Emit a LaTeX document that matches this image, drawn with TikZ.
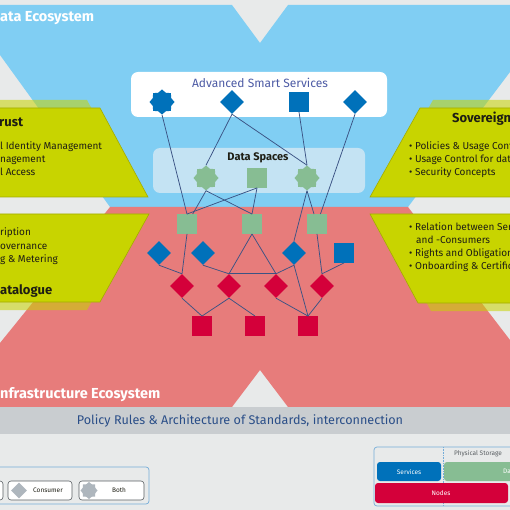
\documentclass[tikz,border=0pt]{standalone}
\usepackage{fontspec}
\setmainfont{Fira Sans}
\usetikzlibrary{shapes.geometric,positioning}
\definecolor{paper}{HTML}{E8EAEA}
\definecolor{skyb}{HTML}{80CEF3}
\definecolor{rose}{HTML}{E77C7B}
\definecolor{barc}{HTML}{C9CDD0}
\definecolor{ylw}{HTML}{C8D400}
\definecolor{ylwline}{HTML}{A3AC00}
\definecolor{svcblue}{HTML}{0071BA}
\definecolor{datgreen}{HTML}{87BD93}
\definecolor{nodered}{HTML}{D4003A}
\definecolor{linkc}{HTML}{3B5384}
\definecolor{dsbox}{HTML}{C4E3F3}
\definecolor{advc}{HTML}{4D5BA5}
\definecolor{policyc}{HTML}{2A4E88}
\definecolor{txtdark}{HTML}{1E1E14}
\definecolor{legline}{HTML}{74ACD8}
\definecolor{btnline}{HTML}{5A5F63}
\definecolor{legshape}{HTML}{AEB6BD}
\tikzset{
  link/.style={draw=linkc,line width=.75pt},
  sqn/.style={rectangle,minimum size=19.5pt,inner sep=0},
  dian/.style={diamond,minimum size=24pt,inner sep=0},
  starn/.style={star,star points=8,star point ratio=1.25,minimum size=25pt,inner sep=0},
  svc/.style={fill=svcblue},
  dat/.style={fill=datgreen},
  nod/.style={fill=nodered},
  pane/.style={fill=ylw,draw=ylwline,line width=.6pt},
  shade/.style={fill=ylw,opacity=.55},
  eco/.style={anchor=base west,inner sep=0,text=white,font=\fontsize{14.5}{16}\selectfont\bfseries},
  head/.style={anchor=base west,inner sep=0,text=txtdark,font=\fontsize{13}{15}\selectfont\bfseries},
  item/.style={anchor=base west,inner sep=0,text=txtdark,font=\fontsize{10}{12}\selectfont},
  tiny/.style={inner sep=0,font=\fontsize{6.5}{8}\selectfont},
  btn/.style={draw=btnline,fill=white,rounded corners=3pt,line width=.6pt}}

\begin{document}
\begin{tikzpicture}[x=1pt,y=-1pt]
\useasboundingbox (0,0) rectangle (510,510);
\fill[paper] (0,0) rectangle (510,510);
% ecosystems
\fill[skyb] (0,5)--(232,5)--(260,43)--(288,5)--(510,5)--(510,72)--(408,207)--(110,207)--(0,55)--cycle;
\fill[rose] (110,207)--(408,207)--(510,340)--(510,407)--(288,407)--(260,370)--(232,407)--(0,407)--(0,343)--cycle;
\node[eco] (datatitle) at (0,22) {ata Ecosystem};
\node[eco] (infratitle) at (0,398) {nfrastructure Ecosystem};
\fill[barc] (0,407) rectangle (510,434);
\node[text=policyc,font=\fontsize{12.6}{14}\selectfont] (policy) at (240,421) {Policy Rules \& Architecture of Standards, interconnection};

% side panels
\foreach \st/\sx/\sy in {shade/-13/-8,pane/0/0}{
\path[\st,shift={(\sx,\sy)}] (-20,108)--(100,108)--(148,197)--(-20,197)--cycle;
\path[\st,shift={(\sx,-\sy)}] (-20,214)--(149,214)--(100,302)--(-20,302)--cycle;
\path[\st,shift={(-\sx,\sy)}] (420,108)--(530,108)--(530,197)--(370,197)--cycle;
\path[\st,shift={(-\sx,-\sy)}] (370,214)--(530,214)--(530,303)--(418,303)--cycle;}
\node[head] (trust) at (-1,127) {rust};
\foreach \t [count=\i] in {l Identity Management,nagement,l Access}
  \node[item] (trust\i) at (0,{137+13*\i}) {\t};
\node[head] (sov) at (452,123) {Sovereign};
\foreach \t [count=\i] in {Policies \& Usage Contr,Usage Control for data,Security Concepts}
  \node[item] (sov\i) at (409,{137+13*\i}) {\textbullet\ \t};
\foreach \t [count=\i] in {ription,overnance,g \& Metering}
  \node[item] (cat\i) at (0,{223+13*\i}) {\t};
\node[head] (cat) at (0,294) {atalogue};
\foreach \xx/\t [count=\i] in {409/{\textbullet\ Relation between Serv},416/{and -Consumers},409/{\textbullet\ Rights and Obligations},409/{\textbullet\ Onboarding \& Certifica}}
  \node[item] (rel\i) at (\xx,{217+13*\i}) {\t};

% service and data layers
\fill[white,rounded corners=7pt] (131,72) rectangle (387,117);
\node[text=advc,font=\fontsize{12}{14}\selectfont] (adv) at (260,83) {Advanced Smart Services};
\fill[dsbox,rounded corners=7pt] (153,148) rectangle (365,193);
\node[text=txtdark,font=\fontsize{11}{13}\selectfont\bfseries] (ds) at (258,158) {Data Spaces};

\node[starn,svc] (s1) at (162,102) {};
\node[dian,svc] (s2) at (232,102) {};
\node[sqn,svc] (s3) at (299,102) {};
\node[dian,svc] (s4) at (355,102) {};
\node[starn,dat] (d1) at (206,178) {};
\node[sqn,dat] (d2) at (257,178) {};
\node[starn,dat] (d3) at (307,178) {};
\foreach \x [count=\i] in {187,252,317}
  \node[sqn,dat] (g\i) at (\x,224) {};
\node[dian,svc] (b1) at (159,253) {};
\node[dian,svc] (b2) at (203,253) {};
\node[dian,svc] (b3) at (294,253) {};
\node[sqn,svc] (b4) at (344,253) {};
\foreach \x [count=\i] in {182,229,276,322}
  \node[dian,nod] (n\i) at (\x,286) {};
\foreach \x [count=\i] in {202,255,308}
  \node[sqn,nod] (p\i) at (\x,326) {};

\foreach \a/\b in {s1.south/g1.north,s2.south/d1.north,s2.south/d3.north,s3.south/d3.north,s4.south/g3,
  d1.south/g1,d1.south/g2.north,d2.south/g1.north,d2.south/g2.north,d3.south/b3.north,d3.south/g3,
  g1.south/n1.north,b1.south/n1.north,b2.south/n2.north,g2.south/n2.north,g2.south/n3.north,
  n2.north/n3.north,b3.south/n3.north,b3.south/p3.north,g3.south/n4.north,b4.south/n4.north,
  n1.south/p1.north,n2.south/p1.north,n2.south/p2.north,n3.south/p3.north,n4.south/p3.north}
  \draw[link] (\a)--(\b);

% legends
\draw[legline,line width=.7pt,rounded corners=3pt] (-10,467) rectangle (149,504);
\path[btn] (-40,481) rectangle (3,500);
\path[btn] (8,481) rectangle (72,500);
\path[btn] (79,481) rectangle (144,500);
\node[diamond,fill=legshape,minimum size=16pt,inner sep=0] (legcons) at (19,490.5) {};
\node[tiny,text=txtdark] (legconst) at (48,490.5) {Consumer};
\node[star,star points=8,star point ratio=1.25,fill=legshape,minimum size=17pt,inner sep=0] (legboth) at (89,490.5) {};
\node[tiny,text=txtdark] (legbotht) at (119,490.5) {Both};

\draw[legline,line width=.7pt,rounded corners=3pt] (374,447) rectangle (530,506);
\draw[legline,line width=.6pt,densely dotted] (443,447)--(443,506);
\node[tiny,text=btnline] (phys) at (478,453.5) {Physical Storage};
\fill[svcblue,rounded corners=3pt] (377,462) rectangle (441,481);
\node[tiny,text=white] (legsvc) at (409,471.5) {Services};
\fill[datgreen,rounded corners=3pt] (444,462) rectangle (530,481);
\node[tiny,text=white,anchor=west] (legdat) at (503,471.5) {Da};
\fill[nodered,rounded corners=3pt] (375,483) rectangle (508,503);
\node[tiny,text=white] (legnod) at (441,493) {Nodes};
\end{tikzpicture}
\end{document}
